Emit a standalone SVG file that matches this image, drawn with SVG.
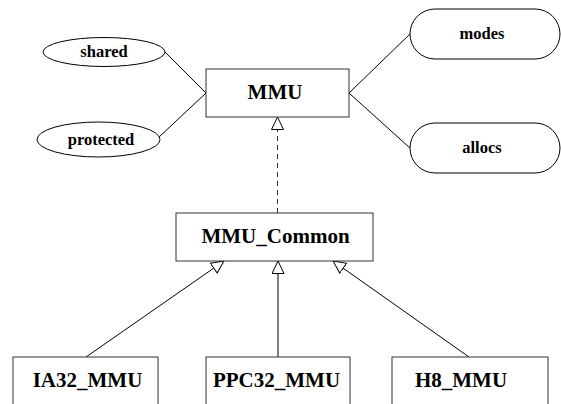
<svg xmlns="http://www.w3.org/2000/svg" width="561" height="404" viewBox="0 0 561 404">
  <style>
    .box { fill: #ffffff; stroke: #333333; stroke-width: 1; }
    .attr { fill: #ffffff; stroke: #000000; stroke-width: 1; }
    .lbl { font-family: "Liberation Serif", "Times New Roman", serif; font-weight: bold; fill: #000000; text-anchor: middle; }
    .big { font-size: 21px; }
    .small { font-size: 16.5px; }
    .edge { fill: none; stroke: #000000; stroke-width: 1; }
    .dash { stroke-dasharray: 5 4; stroke: #333333; }
  </style>
  <defs>
    <marker id="inherit" viewBox="0 0 14 14" refX="13" refY="6.5" markerWidth="14" markerHeight="14" markerUnits="userSpaceOnUse" orient="auto">
      <path d="M0.5,0.5 L13,6.5 L0.5,12.5 Z" fill="#ffffff" stroke="#000000" stroke-width="1" stroke-dasharray="none"/>
    </marker>
  </defs>

  <!-- connectors -->
  <g id="connectors">
    <line class="edge" x1="165" y1="52" x2="206" y2="93"/>
    <line class="edge" x1="158" y1="138" x2="206" y2="93"/>
    <line class="edge" x1="349" y1="93" x2="410" y2="34"/>
    <line class="edge" x1="349" y1="93" x2="410" y2="148"/>
    <line class="edge dash" x1="277.5" y1="213" x2="277.5" y2="117" marker-end="url(#inherit)"/>
    <line class="edge" x1="86" y1="357" x2="224" y2="261" marker-end="url(#inherit)"/>
    <line class="edge" x1="278" y1="357" x2="278" y2="261" marker-end="url(#inherit)"/>
    <line class="edge" x1="469" y1="357" x2="333" y2="261" marker-end="url(#inherit)"/>
  </g>

  <g id="shared">
    <ellipse class="attr" cx="104" cy="52" rx="61" ry="14.5"/>
    <text class="lbl small" x="104" y="57">shared</text>
  </g>
  <g id="protected">
    <ellipse class="attr" cx="98.5" cy="139.5" rx="61.5" ry="17.5"/>
    <text class="lbl small" x="101" y="145">protected</text>
  </g>
  <g id="modes">
    <rect class="attr" x="410" y="9" width="150" height="50" rx="25" ry="25"/>
    <text class="lbl small" x="482" y="39">modes</text>
  </g>
  <g id="allocs">
    <rect class="attr" x="410" y="123" width="150" height="50" rx="25" ry="25"/>
    <text class="lbl small" x="482" y="153">allocs</text>
  </g>

  <g id="MMU">
    <rect class="box" x="206" y="69" width="143" height="48"/>
    <text class="lbl big" x="275" y="99">MMU</text>
  </g>
  <g id="MMU_Common">
    <rect class="box" x="176" y="213" width="197" height="48"/>
    <text class="lbl big" x="275.5" y="243">MMU_Common</text>
  </g>
  <g id="IA32_MMU">
    <rect class="box" x="13" y="357" width="145" height="48"/>
    <text class="lbl big" x="87.5" y="387">IA32_MMU</text>
  </g>
  <g id="PPC32_MMU">
    <rect class="box" x="206" y="357" width="144" height="48"/>
    <text class="lbl big" x="276.5" y="387">PPC32_MMU</text>
  </g>
  <g id="H8_MMU">
    <rect class="box" x="392" y="357" width="156" height="48"/>
    <text class="lbl big" x="461" y="387">H8_MMU</text>
  </g>
</svg>
